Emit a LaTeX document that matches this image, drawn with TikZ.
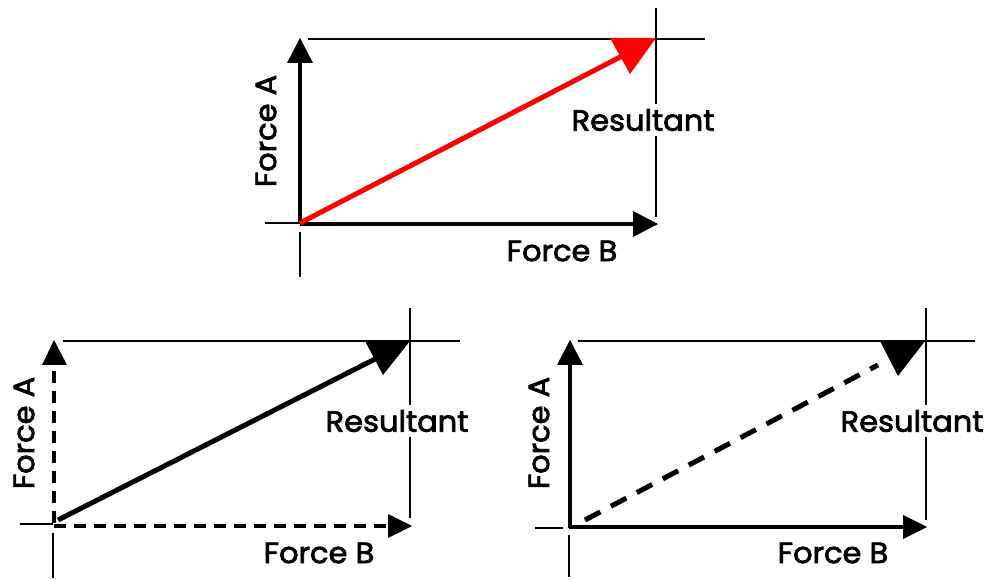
\documentclass[tikz,border=0pt]{standalone}
\usepackage{fontspec}
\setmainfont{Poppins}
\newfontfamily\lblfont{Poppins}[FakeBold=2.5,FakeStretch=1.04]
\begin{document}
\begin{tikzpicture}[x=0.75pt,y=-0.75pt,
  guide/.style={draw=black,line width=1.5pt*0.75},
  vec/.style={draw=black,line width=4pt*0.75},
  dvec/.style={draw=black,line width=4pt*0.75,dash pattern=on 9pt off 6pt},
  rvec/.style={draw=red,line width=5pt*0.75},
  dres/.style={draw=black,line width=5pt*0.75,dash pattern=on 13pt off 9pt},
  head/.style={fill=black},
  rhead/.style={fill=red},
  lbl/.style={font=\lblfont\fontsize{22}{22}\selectfont,inner xsep=1pt,inner ysep=4pt,fill=white}]
\useasboundingbox (0,0) rectangle (984,580);
% ---------------- top panel ----------------
\coordinate (tO) at (300,223);
\draw[guide] (308,39) coordinate (tg1) -- (705,39) coordinate (tg2);
\draw[guide] (656,8) coordinate (tg3) -- (656,217) coordinate (tg4);
\draw[guide] (265,223) coordinate (tg5) -- (tO);
\draw[guide] (300,232) coordinate (tg6) -- (300,277) coordinate (tg7);
\node[lbl,rotate=90] (tFA) at (266,131) {Force A};
\node[lbl] (tRes) at (643,120) {Resultant};
\node[lbl] (tFB) at (562,251) {Force B};
\coordinate (tAb) at (300,63);
\draw[vec] (tO) -- (tAb);
\fill[head] (287,63) -- (313,63) -- (300,38) -- cycle;
\coordinate (tBs) at (300,224);
\coordinate (tBb) at (633,224);
\draw[vec] (tBs) -- (tBb);
\fill[head] (633,211) -- (633,237) -- (658,224) -- cycle;
\coordinate (tRb) at (626,54);
\draw[rvec] (tO) -- (tRb);
\fill[rhead] (610,38) -- (656,38) -- (630,74) -- cycle;
% ---------------- bottom-left panel ----------------
\coordinate (lO) at (53,524);
\draw[guide] (63,341) -- (460,341);
\draw[guide] (410,308) -- (410,518);
\draw[guide] (20,524) -- (lO);
\draw[guide] (53,533) -- (53,578);
\node[lbl,rotate=90] (lFA) at (24,433) {Force A};
\node[lbl] (lRes) at (397,421) {Resultant};
\node[lbl] (lFB) at (319,553) {Force B};
\coordinate (lAs) at (54,523);
\coordinate (lAb) at (54,365);
\draw[dvec] (lAs) -- (lAb);
\fill[head] (42,365) -- (67,365) -- (54,340) -- cycle;
\coordinate (lBs) at (54,526);
\coordinate (lBb) at (388,526);
\draw[dvec] (lBs) -- (lBb);
\fill[head] (388,514) -- (388,538) -- (412,526) -- cycle;
\coordinate (lRs) at (58,520);
\coordinate (lRb) at (381,356);
\draw[vec,line width=5pt*0.75] (lRs) -- (lRb);
\fill[head] (365,341) -- (410,341) -- (383,375) -- cycle;
% ---------------- bottom-right panel ----------------
\coordinate (rO) at (569,528);
\draw[guide] (578,341) -- (975,341);
\draw[guide] (926,308) -- (926,520);
\draw[guide] (535,528) -- (563,528);
\draw[guide] (569,535) -- (569,577);
\node[lbl,rotate=90] (rFA) at (539,433) {Force A};
\node[lbl] (rRes) at (912,421) {Resultant};
\node[lbl] (rFB) at (833,553) {Force B};
\coordinate (rAs) at (570,528);
\coordinate (rAb) at (570,365);
\draw[vec] (rAs) -- (rAb);
\fill[head] (557,365) -- (583,365) -- (570,340) -- cycle;
\coordinate (rBs) at (569,527);
\coordinate (rBb) at (903,527);
\draw[vec] (rBs) -- (rBb);
\fill[head] (903,515) -- (903,539) -- (927,527) -- cycle;
\coordinate (rRs) at (585,520);
\coordinate (rRb) at (878,365);
\draw[dres] (rRs) -- (rRb);
\fill[head] (880,341) -- (925,341) -- (898,376) -- cycle;
\end{tikzpicture}
\end{document}
